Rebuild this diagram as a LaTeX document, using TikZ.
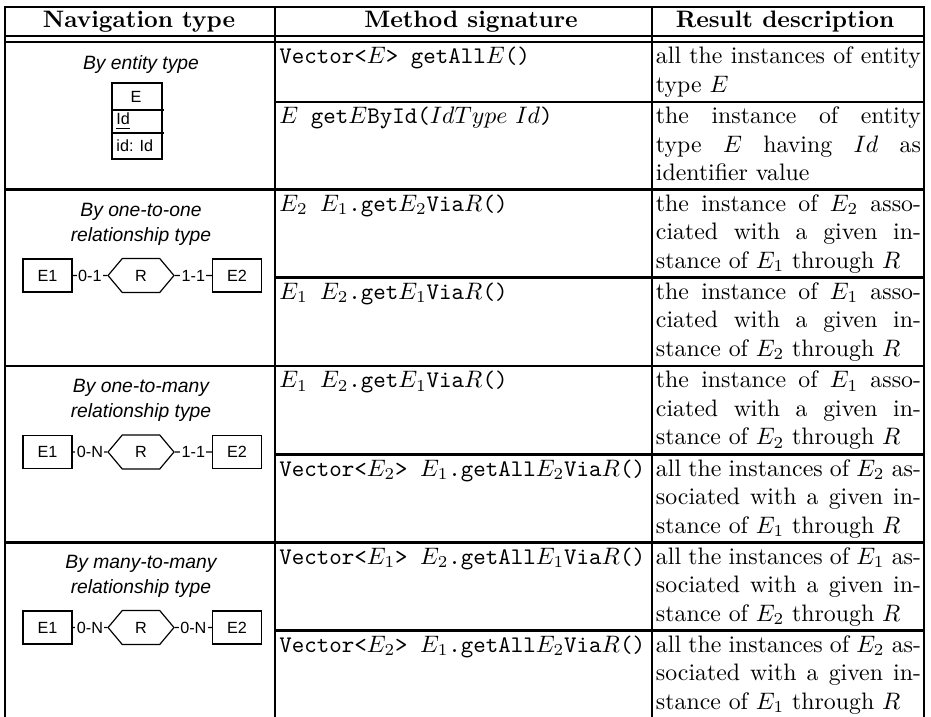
\documentclass[tikz,border=0pt]{standalone}
\usepackage{fontspec}
\newfontfamily\erfont{Liberation Sans}
\usetikzlibrary{shapes.symbols}

\newcommand{\jline}[1]{{\spaceskip=0pt\xspaceskip=0pt\makebox[111.3pt][s]{#1}}}

\tikzset{
  tablerule/.style={line width=1pt, line cap=rect},
  headtext/.style={font=\bfseries, anchor=base, inner sep=0pt},
  sigtext/.style={anchor=base west, inner sep=0pt},
  restext/.style={anchor=base west, inner sep=0pt, text width=111.3pt, align=left},
  navtitle/.style={font=\erfont\itshape\fontsize{8.1}{10.5}\selectfont, align=center, inner sep=0pt},
  erlabel/.style={font=\erfont\fontsize{6.8}{8}\selectfont, inner sep=0pt},
  entbox/.style={draw, line width=0.5pt, minimum width=20.6pt, minimum height=13.9pt, inner sep=0pt, font=\erfont\fontsize{6.8}{8}\selectfont},
  relbox/.style={signal, signal to=west and east, signal pointer angle=100, draw, line width=0.5pt, minimum width=27.7pt, minimum height=14.3pt, inner sep=0pt, font=\erfont\fontsize{6.8}{8}\selectfont},
  cardlabel/.style={fill=white, inner sep=0.6pt, font=\erfont\fontsize{6.8}{8}\selectfont}
}

\begin{document}
\begin{tikzpicture}[x=0.42pt, y=-0.42pt]
\useasboundingbox (0,0) rectangle (931,716);

% rules of the table
\begin{scope}[tablerule]
    \draw (5,7) -- (924,7);
    \draw (5,36) -- (924,36);
    \draw (5,42) -- (924,42);
    \draw (275,102) -- (924,102);
    \draw (5,189.5) -- (924,189.5);
    \draw (275,277.5) -- (924,277.5);
    \draw (5,366) -- (924,366);
    \draw (275,454.5) -- (924,454.5);
    \draw (5,542.5) -- (924,542.5);
    \draw (275,630.5) -- (924,630.5);
    \draw (5,7) -- (5,716);
    \draw (275,7) -- (275,716);
    \draw (652,7) -- (652,716);
    \draw (924,7) -- (924,716);
\end{scope}

\node (navhead) at (139,27) [headtext] {Navigation type};
\node (sighead) at (471,27) [headtext] {Method signature};
\node (reshead) at (785,27) [headtext] {Result description};

% navigation type column
\node (titlea) at (141,65) [navtitle] {By entity type};
\node (ent) at (137,121) [draw, line width=0.5pt, minimum width=21pt, minimum height=31.9pt, inner sep=0pt] {};
\draw [line width=0.5pt] (112,110) -- (164,110);
\draw [line width=0.5pt] (112,133) -- (164,133);
\node (enttype) at (136,96.5) [erlabel] {E};
\node (entattr) at (116,121.5) [erlabel, anchor=west] {\underline{Id}};
\node (entid) at (116,146) [erlabel, anchor=west] {id: Id};

\node (titleb) at (141,224.5) [navtitle] {By one-to-one\\relationship type};
\node (e1b) at (47.5,275.5) [entbox] {E1};
\node (rb) at (141,275.5) [relbox] {R};
\node (e2b) at (237,275.5) [entbox] {E2};

\node (titlec) at (141,400.5) [navtitle] {By one-to-many\\relationship type};
\node (e1c) at (47.5,452) [entbox] {E1};
\node (rc) at (141,452) [relbox] {R};
\node (e2c) at (237,452) [entbox] {E2};

\node (titled) at (141,576.5) [navtitle] {By many-to-many\\relationship type};
\node (e1d) at (47.5,627.5) [entbox] {E1};
\node (rd) at (141,627.5) [relbox] {R};
\node (e2d) at (237,627.5) [entbox] {E2};

\begin{scope}[every edge/.style={draw, line width=0.5pt}]
    \path (e1b) edge node [cardlabel] {0-1} (rb);
    \path (rb) edge node [cardlabel] {1-1} (e2b);
    \path (e1c) edge node [cardlabel] {0-N} (rc);
    \path (rc) edge node [cardlabel] {1-1} (e2c);
    \path (e1d) edge node [cardlabel] {0-N} (rd);
    \path (rd) edge node [cardlabel] {0-N} (e2d);
\end{scope}

% method signature column
\node (siga) at (279,63.5) [sigtext] {\texttt{Vector<$E$> getAll$E$()}};
\node (sigb) at (279,123.5) [sigtext] {\texttt{$E$ get$E$ById(}$IdType$ $Id$\texttt{)}};
\node (sigc) at (279,211) [sigtext] {\texttt{$E_2$ $E_1$.get$E_2$Via$R$()}};
\node (sigd) at (279,299) [sigtext] {\texttt{$E_1$ $E_2$.get$E_1$Via$R$()}};
\node (sige) at (279,387.5) [sigtext] {\texttt{$E_1$ $E_2$.get$E_1$Via$R$()}};
\node (sigf) at (279,476) [sigtext] {\texttt{Vector<$E_2$> $E_1$.getAll$E_2$Via$R$()}};
\node (sigg) at (279,564) [sigtext] {\texttt{Vector<$E_1$> $E_2$.getAll$E_1$Via$R$()}};
\node (sigh) at (279,652) [sigtext] {\texttt{Vector<$E_2$> $E_1$.getAll$E_2$Via$R$()}};

% result description column
\node (resa) at (655.5,63.5) [restext] {\jline{all the instances of entity}\\type $E$};
\node (resb) at (655.5,123.5) [restext] {\jline{the instance of entity}\\\jline{type $E$ having $Id$ as}\\identifier value};
\node (resc) at (655.5,211) [restext] {\jline{the instance of $E_2$ asso-}\\\jline{ciated with a given in-}\\stance of $E_1$ through $R$};
\node (resd) at (655.5,299) [restext] {\jline{the instance of $E_1$ asso-}\\\jline{ciated with a given in-}\\stance of $E_2$ through $R$};
\node (rese) at (655.5,387.5) [restext] {\jline{the instance of $E_1$ asso-}\\\jline{ciated with a given in-}\\stance of $E_2$ through $R$};
\node (resf) at (655.5,476) [restext] {\jline{all the instances of $E_2$ as-}\\\jline{sociated with a given in-}\\stance of $E_1$ through $R$};
\node (resg) at (655.5,564) [restext] {\jline{all the instances of $E_1$ as-}\\\jline{sociated with a given in-}\\stance of $E_2$ through $R$};
\node (resh) at (655.5,652) [restext] {\jline{all the instances of $E_2$ as-}\\\jline{sociated with a given in-}\\stance of $E_1$ through $R$};
\end{tikzpicture}
\end{document}
